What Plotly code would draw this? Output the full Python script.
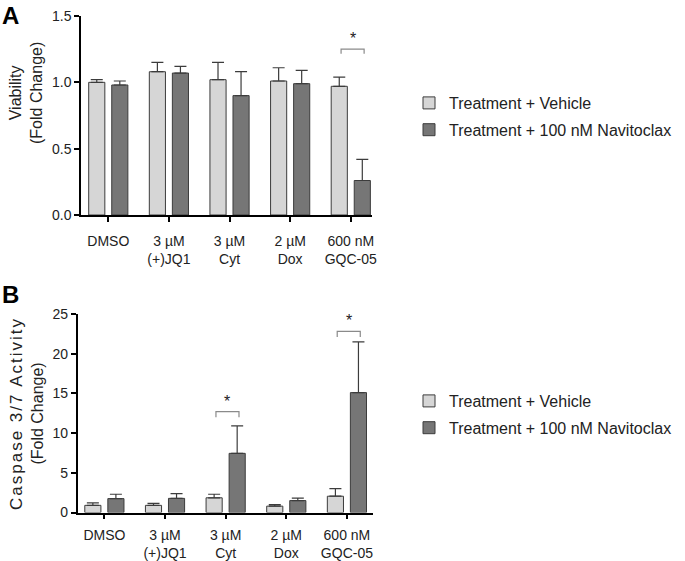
import plotly.graph_objects as go

# ---------------- data ----------------
categories = ["DMSO", "3 µM<br>(+)JQ1", "3 µM<br>Cyt", "2 µM<br>Dox", "600 nM<br>GQC-05"]
series_names = ["Treatment + Vehicle", "Treatment + 100 nM Navitoclax"]

viab_vehicle = [1.00, 1.08, 1.02, 1.01, 0.97]
viab_vehicle_err = [0.02, 0.07, 0.13, 0.10, 0.07]
viab_navito = [0.98, 1.07, 0.90, 0.99, 0.26]
viab_navito_err = [0.03, 0.05, 0.18, 0.10, 0.16]

casp_vehicle = [0.90, 0.90, 1.85, 0.80, 2.05]
casp_vehicle_err = [0.30, 0.25, 0.45, 0.20, 0.95]
casp_navito = [1.75, 1.78, 7.45, 1.50, 15.10]
casp_navito_err = [0.55, 0.60, 3.45, 0.30, 6.40]

viab_ticks = [0.0, 0.5, 1.0, 1.5]
casp_ticks = [0, 5, 10, 15, 20, 25]

# significance: (category index, bracket level)
viab_sig = [(4, 1.25)]
casp_sig = [(2, 12.7), (4, 22.8)]

# ---------------- style ----------------
FONT = "Liberation Sans, Arial, Helvetica, sans-serif"
LIGHT = "#d6d6d6"
DARK = "#767676"
EDGE = "#3c3c3c"
W, H = 685, 561

pos = list(range(len(categories)))

fig = go.Figure()


def add_bars(vals, errs, color, name, xa, ya, leg, grp):
    fig.add_trace(go.Bar(
        x=pos, y=vals, name=name, xaxis=xa, yaxis=ya, legend=leg,
        legendgroup=grp,
        marker=dict(color=color, line=dict(color=EDGE, width=1)),
        error_y=dict(type="data", symmetric=False, array=errs,
                     arrayminus=[0] * len(errs), color=EDGE,
                     thickness=1.2, width=6),
    ))


add_bars(viab_vehicle, viab_vehicle_err, LIGHT, series_names[0], "x", "y", "legend", "a1")
add_bars(viab_navito, viab_navito_err, DARK, series_names[1], "x", "y", "legend", "a2")
add_bars(casp_vehicle, casp_vehicle_err, LIGHT, series_names[0], "x2", "y2", "legend2", "b1")
add_bars(casp_navito, casp_navito_err, DARK, series_names[1], "x2", "y2", "legend2", "b2")

axis_common = dict(showline=True, linecolor="black", linewidth=1.5,
                   ticks="outside", ticklen=5, tickwidth=1.5, tickcolor="black",
                   showgrid=False, zeroline=False, automargin=False,
                   tickfont=dict(family=FONT, size=14, color="#222"))

legend_common = dict(xanchor="left", yanchor="top",
                     font=dict(family=FONT, size=16, color="#222"),
                     bgcolor="rgba(0,0,0,0)", tracegroupgap=3)

fig.update_layout(
    width=W, height=H,
    margin=dict(l=0, r=0, t=0, b=0, autoexpand=False),
    paper_bgcolor="white", plot_bgcolor="white",
    barmode="group", bargap=0.24, bargroupgap=0.3,
    font=dict(family=FONT, color="#222"),
    xaxis=dict(domain=[81 / W, 372 / W], range=[-0.45, 4.35], anchor="y",
               tickvals=pos, ticktext=categories, ticklabelstandoff=7,
               **axis_common),
    yaxis=dict(domain=[1 - 215 / H, 1 - 16 / H], range=[0, 1.5], anchor="x",
               tickvals=viab_ticks, tickformat=".1f", **axis_common),
    xaxis2=dict(domain=[77.7 / W, 373 / W], range=[-0.44, 4.43], anchor="y2",
                tickvals=pos, ticktext=categories, ticklabelstandoff=4,
                **axis_common),
    yaxis2=dict(domain=[1 - 512.5 / H, 1 - 314 / H], range=[0, 25], anchor="x2",
                tickvals=casp_ticks, **axis_common),
    legend=dict(x=409 / W, y=1 - 86 / H, **legend_common),
    legend2=dict(x=409 / W, y=1 - 384 / H, **legend_common),
)

# significance brackets
def add_sig(sigs, xa, ya, leg_drop):
    for idx, level in sigs:
        x0, x1 = idx - 0.16, idx + 0.22
        fig.add_shape(type="path",
                      path=f"M {x0},{level - leg_drop} L {x0},{level} L {x1},{level} L {x1},{level - leg_drop}",
                      xref=xa, yref=ya, line=dict(color="#8a8a8a", width=1.2))
        fig.add_annotation(x=(x0 + x1) / 2, y=level, xref=xa, yref=ya,
                           text="*", showarrow=False, yanchor="bottom", yshift=0,
                           font=dict(family=FONT, size=16, color="#222"))


add_sig(viab_sig, "x", "y", 0.035)
add_sig(casp_sig, "x2", "y2", 0.7)

# axis titles
fig.add_annotation(x=26 / W, y=1 - 93 / H, xref="paper", yref="paper",
                   text="Viability<br>(Fold Change)", textangle=-90, showarrow=False,
                   xanchor="center", yanchor="middle",
                   font=dict(family=FONT, size=16, color="#222"))
fig.add_annotation(x=26 / W, y=1 - 414 / H, xref="paper", yref="paper",
                   text="<span style='font-size:17px;letter-spacing:2px'>Caspase 3/7 Activity</span><br>(Fold Change)",
                   textangle=-90, showarrow=False,
                   xanchor="center", yanchor="middle",
                   font=dict(family=FONT, size=16, color="#222"))

# panel letters
fig.add_annotation(x=0, y=1, xref="paper", yref="paper", text="<b>A</b>",
                   showarrow=False, xanchor="left", yanchor="top",
                   font=dict(family=FONT, size=24, color="black"))
fig.add_annotation(x=0, y=1 - 279 / H, xref="paper", yref="paper", text="<b>B</b>",
                   showarrow=False, xanchor="left", yanchor="top",
                   font=dict(family=FONT, size=24, color="black"))

fig.write_html("out.html", config={"displayModeBar": False},
               post_script="document.body.style.margin='0';")
